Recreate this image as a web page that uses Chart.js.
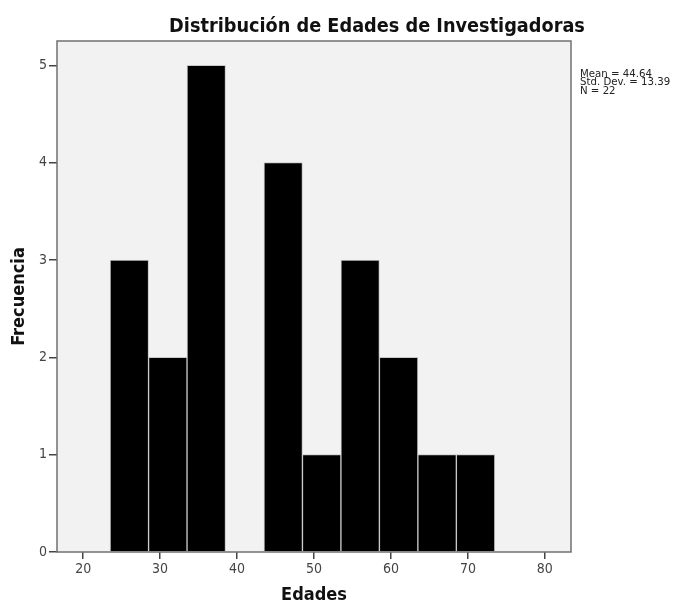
<!DOCTYPE html>
<html>
<head>
<meta charset="utf-8">
<script src="https://cdn.jsdelivr.net/npm/chart.js@4.4.1/dist/chart.umd.min.js"></script>
<style>
  html, body { margin: 0; padding: 0; background: #fff; }
  #wrap { width: 693px; height: 603px; }
</style>
</head>
<body>
<div id="wrap"><canvas id="hist" width="693" height="603"></canvas></div>
<script>
// Histogram bins (center of each 5-year bin) and counts
const binCenters = [26, 31, 36, 41, 46, 51, 56, 61, 66, 71];
const counts = [3, 2, 5, 0, 4, 1, 3, 2, 1, 1];
const xTicks = [20, 30, 40, 50, 60, 70, 80];
const yTicks = [0, 1, 2, 3, 4, 5];
const statsLines = ['Mean = 44.64', 'Std. Dev. = 13.39', 'N = 22'];

const FONT = "'DejaVu Sans Condensed', 'Liberation Sans Narrow', 'DejaVu Sans', sans-serif";

// background + frame of the plot area, title and stats box
const frame = {
    id: 'frame',
    beforeDraw(chart) {
        const { ctx, chartArea: a } = chart;
        ctx.save();
        ctx.fillStyle = '#f2f2f2';
        ctx.fillRect(a.left, a.top, a.right - a.left, a.bottom - a.top);
        ctx.restore();
    },
    afterDraw(chart) {
        const { ctx, chartArea: a } = chart;
        ctx.save();
        ctx.strokeStyle = '#707070';
        ctx.lineWidth = 1.5;
        ctx.strokeRect(a.left, a.top, a.right - a.left, a.bottom - a.top);

        ctx.fillStyle = '#111';
        ctx.font = 'bold 19.7px ' + FONT;
        ctx.textAlign = 'center';
        ctx.textBaseline = 'alphabetic';
        ctx.fillText('Distribución de Edades de Investigadoras', 377, 32);

        ctx.font = "10.2px 'DejaVu Sans', sans-serif";
        ctx.textAlign = 'left';
        ctx.fillStyle = '#222';
        statsLines.forEach((s, i) => ctx.fillText(s, 580, 76.5 + i * 8.6));
        ctx.restore();
    }
};

new Chart(document.getElementById('hist'), {
    type: 'bar',
    data: {
        datasets: [{
            data: binCenters.map((c, i) => ({ x: c, y: counts[i] })),
            backgroundColor: '#000',
            borderColor: '#c8c8c8',
            borderWidth: 1,
            barPercentage: 1,
            categoryPercentage: 1
        }]
    },
    options: {
        responsive: false,
        animation: false,
        layout: { padding: { top: 41, right: 122, left: 0, bottom: 0 } },
        plugins: {
            legend: { display: false },
            tooltip: { enabled: false }
        },
        scales: {
            x: {
                type: 'linear',
                offset: false,
                min: 16.6,
                max: 83.4,
                afterBuildTicks: (scale) => { scale.ticks = xTicks.map(v => ({ value: v })); },
                afterFit: (scale) => { scale.height = 51; },
                grid: { offset: false, drawOnChartArea: false, drawTicks: true, tickLength: 7, color: '#444', lineWidth: 1.5 },
                border: { display: false },
                ticks: { color: '#444', font: { family: FONT, size: 14 }, padding: 2, maxRotation: 0 },
                title: {
                    display: true,
                    text: 'Edades',
                    color: '#111',
                    font: { family: FONT, size: 18, weight: 'bold', lineHeight: 0.9 },
                    padding: { top: 0, bottom: 0 }
                }
            },
            y: {
                min: 0,
                max: 5.25,
                afterBuildTicks: (scale) => { scale.ticks = yTicks.map(v => ({ value: v })); },
                afterFit: (scale) => { scale.width = 57; },
                grid: { drawOnChartArea: false, drawTicks: true, tickLength: 8, color: '#444', lineWidth: 1.5 },
                border: { display: false },
                ticks: { color: '#444', font: { family: FONT, size: 14 }, padding: 2 },
                title: {
                    display: true,
                    text: 'Frecuencia',
                    color: '#111',
                    font: { family: FONT, size: 18, weight: 'bold', lineHeight: 1.0 },
                    padding: { top: 10, bottom: 0 }
                }
            }
        }
    },
    plugins: [frame]
});
</script>
</body>
</html>
